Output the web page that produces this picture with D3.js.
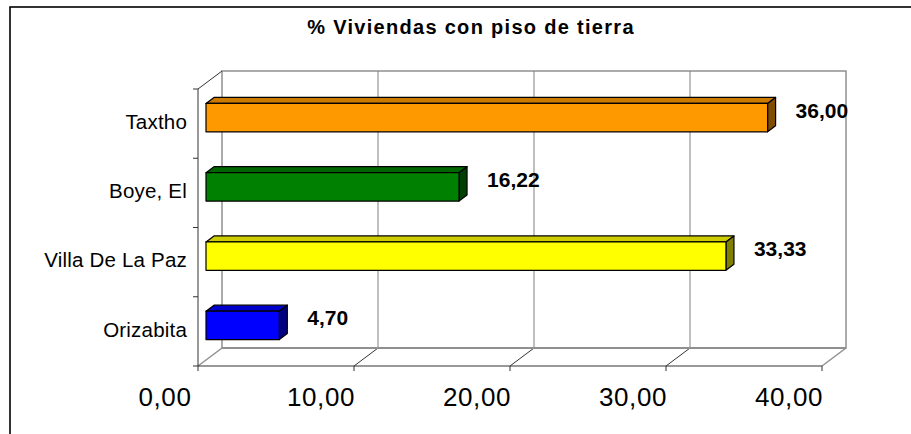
<!DOCTYPE html>
<html><head><meta charset="utf-8">
<script src="https://cdn.jsdelivr.net/npm/d3@7"></script>
<style>html,body{margin:0;padding:0;background:#fff;overflow:hidden}</style>
</head><body><svg id="c" width="911" height="434"></svg>
<script>
const title = "% Viviendas con piso de tierra";
const categories = ["Taxtho", "Boye, El", "Villa De La Paz", "Orizabita"];
const values = [36.00, 16.22, 33.33, 4.70];
const frontColors = ["#FF9900", "#008000", "#FFFF00", "#0000FF"];
const topColors = ["#CC7A00", "#006600", "#CCCC00", "#0000CC"];
const sideColors = ["#804D00", "#004000", "#808000", "#000080"];
const tickValues = [0, 10, 20, 30, 40];

const svg = d3.select("#c");
const FONT = "Arial, 'Liberation Sans', sans-serif";
const DX = 24, DY = -18;           // depth of plot
const BDX = 8, BDY = -6;           // bar depth step
const fmt = v => d3.format(".2f")(v).replace(".", ",");

const x = d3.scaleLinear().domain([0, 40]).range([198, 822]);
const y = d3.scaleBand().domain(categories).range([89, 366]).paddingInner(0.59).paddingOuter(0.295);
const yTop = 89, yBot = 366;

// outer frame
svg.append("rect").attr("x", 10).attr("y", 7).attr("width", 1000).attr("height", 600)
  .attr("fill", "#fff").attr("stroke", "#000").attr("stroke-width", 1.6);

// title
svg.append("text").attr("x", 471).attr("y", 34).attr("text-anchor", "middle")
  .attr("font-family", FONT).attr("font-weight", "bold").attr("font-size", 20)
  .attr("letter-spacing", 1.3).text(title);

// back wall
svg.append("rect").attr("x", x(0) + DX).attr("y", yTop + DY)
  .attr("width", x(40) - x(0)).attr("height", yBot - yTop)
  .attr("fill", "#fff").attr("stroke", "#909090").attr("stroke-width", 1.5);

// gridlines on back wall and floor
tickValues.slice(1, -1).forEach(v => {
  svg.append("line").attr("x1", x(v) + DX).attr("x2", x(v) + DX)
    .attr("y1", yTop + DY).attr("y2", yBot + DY).attr("stroke", "#808080").attr("stroke-width", 1);
  svg.append("line").attr("x1", x(v)).attr("y1", yBot)
    .attr("x2", x(v) + DX).attr("y2", yBot + DY).attr("stroke", "#333").attr("stroke-width", 1);
});

// floor edges
svg.append("line").attr("x1", x(40)).attr("y1", yBot).attr("x2", x(40) + DX).attr("y2", yBot + DY)
  .attr("stroke", "#909090").attr("stroke-width", 1.5);
svg.append("line").attr("x1", x(0)).attr("y1", yBot).attr("x2", x(0) + DX).attr("y2", yBot + DY)
  .attr("stroke", "#909090").attr("stroke-width", 1.5);
svg.append("line").attr("x1", x(0) + DX).attr("y1", yBot + DY).attr("x2", x(40) + DX).attr("y2", yBot + DY)
  .attr("stroke", "#909090").attr("stroke-width", 2);
svg.append("line").attr("x1", x(0)).attr("y1", yBot).attr("x2", x(40)).attr("y2", yBot)
  .attr("stroke", "#333").attr("stroke-width", 1);

// left wall
svg.append("line").attr("x1", x(0)).attr("y1", yTop).attr("x2", x(0) + DX).attr("y2", yTop + DY)
  .attr("stroke", "#333").attr("stroke-width", 1);
svg.append("line").attr("x1", x(0)).attr("y1", yTop).attr("x2", x(0)).attr("y2", yBot)
  .attr("stroke", "#333").attr("stroke-width", 1);

// category ticks
const bounds = d3.range(categories.length + 1).map(i => yTop + i * y.step());
bounds.forEach(b => {
  svg.append("line").attr("x1", x(0) - 5).attr("x2", x(0)).attr("y1", b).attr("y2", b)
    .attr("stroke", "#333").attr("stroke-width", 1);
});

// value ticks
tickValues.forEach(v => {
  svg.append("line").attr("x1", x(v)).attr("x2", x(v)).attr("y1", yBot).attr("y2", yBot + 5)
    .attr("stroke", "#333").attr("stroke-width", 1);
  svg.append("text").attr("x", x(v) - 33).attr("y", 406).attr("text-anchor", "middle")
    .attr("font-family", FONT).attr("font-size", 26).attr("letter-spacing", 0.6)
    .attr("fill", "#000").text(fmt(v));
});

// category labels
categories.forEach(c => {
  svg.append("text").attr("x", 187).attr("y", y(c) + y.bandwidth() / 2 - 2).attr("dy", "0.35em")
    .attr("text-anchor", "end").attr("font-family", FONT).attr("font-size", 20.5)
    .attr("letter-spacing", 0.2).text(c);
});

// bars
categories.forEach((c, i) => {
  const v = values[i];
  const x0 = x(0) + BDX, x1 = x(v) + BDX;
  const y0 = y(c) + BDY, y1 = y0 + y.bandwidth();
  const g = svg.append("g").attr("stroke", "#000").attr("stroke-width", 1.2).attr("stroke-linejoin", "round");
  g.append("polygon").attr("points", [[x0, y0], [x1, y0], [x1 + BDX, y0 + BDY], [x0 + BDX, y0 + BDY]].join(" "))
    .attr("fill", topColors[i]);
  g.append("polygon").attr("points", [[x1, y0], [x1 + BDX, y0 + BDY], [x1 + BDX, y1 + BDY], [x1, y1]].join(" "))
    .attr("fill", sideColors[i]);
  g.append("rect").attr("x", x0).attr("y", y0).attr("width", x1 - x0).attr("height", y1 - y0)
    .attr("fill", frontColors[i]);
  svg.append("text").attr("x", x1 + 28).attr("y", (y0 + y1) / 2)
    .attr("font-family", FONT).attr("font-weight", "bold").attr("font-size", 21)
    .attr("fill", "#000").text(fmt(v));
});
</script>
</body></html>
